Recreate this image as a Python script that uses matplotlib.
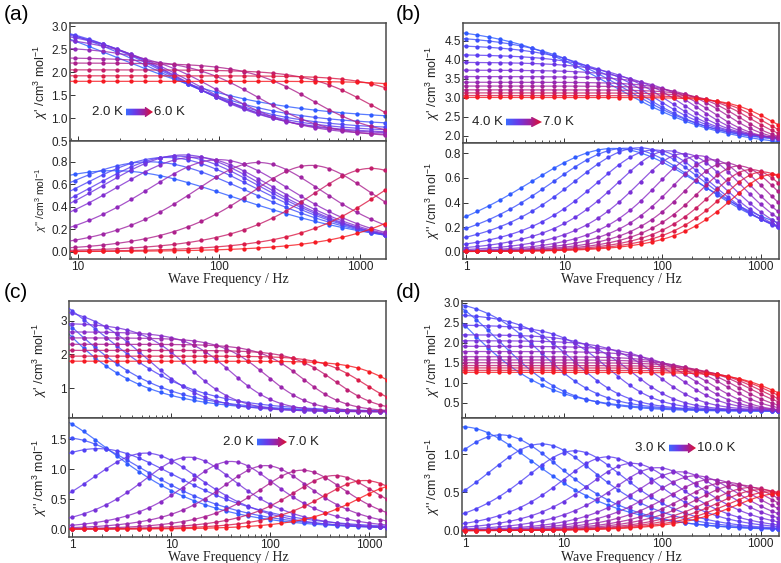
import numpy as np
import matplotlib
matplotlib.use("Agg")
import matplotlib.pyplot as plt
from matplotlib.colors import LinearSegmentedColormap
from matplotlib.patches import Polygon
from matplotlib.ticker import FixedLocator, LogLocator, NullFormatter

plt.rcParams['font.family'] = ['Liberation Sans', 'DejaVu Sans']
plt.rcParams['mathtext.fontset'] = 'custom'
plt.rcParams['mathtext.rm'] = 'Liberation Sans'
plt.rcParams['mathtext.it'] = 'Liberation Sans:italic'

# ---------------- data ----------------
# measured frequencies (Hz)
freq_a = [9.5, 12, 15, 19, 24, 30, 38, 48, 60, 75, 95, 120, 150, 190, 240,
          300, 380, 480, 600, 750, 950, 1200, 1500]
freq_bcd = [1.0, 1.3, 1.7, 2.2, 2.8, 3.6, 4.7, 6.0, 7.8, 10, 13, 17, 22, 28, 36,
            47, 60, 78, 100, 130, 170, 220, 280, 360, 470, 600, 780, 1000, 1300, 1500]

# generalized Debye parameters read per temperature:
# chi_T, chi_S (cm3/mol), peak frequency of chi'' (Hz), distribution alpha
# panel (a) 2.0 K -> 6.0 K
chiT_a = [3.76, 3.42, 3.24, 3.10, 3.01, 2.86, 2.58, 2.32, 2.20, 2.05, 1.92, 1.80]
chiS_a = [0.93, 0.81, 0.73, 0.68, 0.64, 0.62, 0.60, 0.575, 0.59, 0.52, 0.50, 0.50]
fpk_a = [18, 32, 42, 50, 56, 68, 100, 190, 450, 1200, 3200, 7500]
alpha_a = [0.40, 0.30, 0.25, 0.22, 0.20, 0.18, 0.12, 0.06, 0.03, 0.02, 0.0, 0.0]

# panel (b) 4.0 K -> 7.0 K
chiT_b = [4.95, 4.68, 4.42, 4.15, 3.94, 3.73, 3.56, 3.41, 3.31, 3.21, 3.13, 3.06, 3.01]
chiS_b = [1.65, 1.78, 1.80, 1.87, 1.89, 1.89, 1.87, 1.84, 1.82, 1.77, 1.75, 1.72, 1.71]
fpk_b = [32, 42, 58, 82, 115, 165, 235, 320, 440, 600, 800, 1050, 1350]
alpha_b = [0.40, 0.33, 0.27, 0.20, 0.14, 0.09, 0.05, 0.03, 0.02, 0.02, 0.02, 0.02, 0.02]

# panel (c) 2.0 K -> 7.0 K
chiT_c = [7.3, 5.75, 5.1, 3.52, 2.94, 2.67, 2.49, 2.30, 2.12, 1.95, 1.80]
chiS_c = [0.30, 0.30, 0.30, 0.30, 0.30, 0.30, 0.30, 0.30, 0.30, 0.30, 0.30]
fpk_c = [0.4, 0.82, 1.8, 5.5, 15, 40, 90, 210, 450, 900, 2000]
alpha_c = [0.35, 0.35, 0.35, 0.15, 0.06, 0.03, 0.02, 0.01, 0.01, 0.01, 0.01]

# panel (d) 3.0 K -> 10.0 K
chiT_d = [4.70, 3.72, 3.17, 2.74, 2.45, 2.20, 2.05, 1.91, 1.78, 1.65, 1.57, 1.50,
          1.43, 1.37, 1.31, 1.26]
chiS_d = [0.28, 0.28, 0.30, 0.30, 0.30, 0.30, 0.30, 0.30, 0.28, 0.25, 0.25, 0.25,
          0.25, 0.25, 0.25, 0.25]
fpk_d = [0.94, 2.3, 6, 13, 28, 50, 90, 150, 220, 320, 450, 600, 800, 1000, 1250, 1500]
alpha_d = [0.30, 0.20, 0.15, 0.10, 0.07, 0.05, 0.04, 0.03, 0.03, 0.03, 0.03, 0.03,
           0.03, 0.03, 0.03, 0.03]

legend_a = ("2.0 K", "6.0 K")
legend_b = ("4.0 K", "7.0 K")
legend_c = ("2.0 K", "7.0 K")
legend_d = ("3.0 K", "10.0 K")

# ---------------- helpers ----------------
W, H = 781, 563
fig = plt.figure(figsize=(W / 100, H / 100), dpi=100)

cmap = LinearSegmentedColormap.from_list(
    "bp", ["#2f5bff", "#5a3cf2", "#8a2bc8", "#b01f86", "#f51a22"])
acmap = LinearSegmentedColormap.from_list(
    "arr", ["#3a6cff", "#6a3ae8", "#a0209a", "#e0102a"])


def debye(f, cT, cS, fp, a):
    f = np.asarray(f, float)
    x = (f / fp) ** (1 - a)
    s = np.sin(np.pi * a / 2)
    c = np.cos(np.pi * a / 2)
    den = 1 + 2 * x * s + x * x
    return cS + (cT - cS) * (1 + x * s) / den, (cT - cS) * x * c / den


def px_axes(L, R, T, B):
    return fig.add_axes([L / W, 1 - B / H, (R - L) / W, (B - T) / H])


def style(ax, xlim, ylim, yticks, yfmt, xticks, show_x):
    ax.set_xscale('log')
    ax.set_xlim(*xlim)
    ax.set_ylim(*ylim)
    ax.yaxis.set_major_locator(FixedLocator(yticks))
    ax.set_yticklabels([yfmt.format(v) for v in yticks])
    ax.xaxis.set_major_locator(FixedLocator(xticks))
    ax.xaxis.set_minor_locator(LogLocator(base=10, subs=np.arange(2, 10)))
    ax.xaxis.set_minor_formatter(NullFormatter())
    if show_x:
        ax.set_xticklabels([str(int(v)) for v in xticks])
    else:
        ax.set_xticklabels([])
    ax.tick_params(which='both', direction='in', labelsize=8.5, colors='#333333',
                   labelcolor='#222222', pad=1.5)
    ax.tick_params(which='major', length=3.5, width=0.7)
    ax.tick_params(which='minor', length=2, width=0.6)
    for sp in ax.spines.values():
        sp.set_color('#4a4a4a')
        sp.set_linewidth(1.1)


def draw(ax1, ax2, freq, cT, cS, fp, al, xlim):
    n = len(cT)
    fl = np.geomspace(xlim[0], xlim[1], 300)
    for i in range(n):
        col = cmap(i / (n - 1))
        l1, l2 = debye(fl, cT[i], cS[i], fp[i], al[i])
        d1, d2 = debye(freq, cT[i], cS[i], fp[i], al[i])
        ax1.plot(fl, l1, '-', color=col, lw=0.9, alpha=0.8, zorder=2 + i)
        ax2.plot(fl, l2, '-', color=col, lw=0.9, alpha=0.8, zorder=2 + i)
        ax1.plot(freq, d1, 'o', color=col, ms=3.1, mec='none', zorder=2 + i)
        ax2.plot(freq, d2, 'o', color=col, ms=3.1, mec='none', zorder=2 + i)


def grad_arrow(x0, yc, w, h):
    ax = fig.add_axes([x0 / W, 1 - (yc + h / 2) / H, w / W, h / H])
    ax.axis('off')
    ax.set_xlim(0, 1)
    ax.set_ylim(0, 1)
    im = ax.imshow(np.linspace(0, 1, 256)[None, :], extent=[0, 1, 0, 1],
                   cmap=acmap, aspect='auto')
    poly = Polygon([(0, 0.2), (0.7, 0.2), (0.7, 0.0), (1, 0.5), (0.7, 1.0),
                    (0.7, 0.8), (0, 0.8)], closed=True, facecolor='none',
                   edgecolor='none', transform=ax.transData)
    ax.add_patch(poly)
    im.set_clip_path(poly)


def legend(labels, xl, ax0, aw, xr, yc):
    fig.text(xl / W, 1 - yc / H, labels[0], ha='left', va='center', fontsize=9.5,
             color='#222222')
    grad_arrow(ax0, yc, aw, 11)
    fig.text(xr / W, 1 - yc / H, labels[1], ha='left', va='center', fontsize=9.5,
             color='#222222')


ylab1 = r"$\chi$' /cm$^3$ mol$^{-1}$"
ylab2 = r"$\chi$'' /cm$^3$ mol$^{-1}$"


def ylabels(x, y1, y2, s2=9):
    fig.text(x / W, 1 - y1 / H, ylab1, rotation=90, ha='center', va='center',
             fontsize=9, color='#222222')
    fig.text(x / W, 1 - y2 / H, ylab2, rotation=90, ha='center', va='center',
             fontsize=s2, color='#222222')


def xlabel(xc, y):
    fig.text(xc / W, 1 - y / H, "Wave Frequency / Hz", ha='center', va='center',
             fontsize=10, family='Liberation Serif', color='#222222')


# ---------------- panel (a) ----------------
xl_a = (8.8, 1530)
a1 = px_axes(70, 386, 23, 141)
a2 = px_axes(70, 386, 141, 259)
draw(a1, a2, freq_a, chiT_a, chiS_a, fpk_a, alpha_a, xl_a)
style(a1, xl_a, (0.5, 3.07), [0.5, 1.0, 1.5, 2.0, 2.5, 3.0], "{:.1f}",
      [10, 100, 1000], False)
style(a2, xl_a, (-0.065, 0.985), [0.0, 0.2, 0.4, 0.6, 0.8], "{:.1f}",
      [10, 100, 1000], True)
legend(legend_a, 92, 126, 27, 154, 112)
ylabels(41, 82, 200, s2=7.5)
xlabel(228, 279)
fig.text(4 / W, 1 - 14 / H, "(a)", fontsize=15, va='center', ha='left')

# ---------------- panel (b) ----------------
xl_b = (0.93, 1540)
b1 = px_axes(463, 779, 23, 143)
b2 = px_axes(463, 779, 143, 259)
draw(b1, b2, freq_bcd, chiT_b, chiS_b, fpk_b, alpha_b, xl_b)
style(b1, xl_b, (1.81, 4.97), [2.0, 2.5, 3.0, 3.5, 4.0, 4.5], "{:.1f}",
      [1, 10, 100, 1000], False)
style(b2, xl_b, (-0.06, 0.885), [0.0, 0.2, 0.4, 0.6, 0.8], "{:.1f}",
      [1, 10, 100, 1000], True)
legend(legend_b, 472, 506, 36, 543, 122)
ylabels(433, 83, 201)
xlabel(621, 279)
fig.text(396 / W, 1 - 14 / H, "(b)", fontsize=15, va='center', ha='left')

# ---------------- panel (c) ----------------
xl_c = (0.925, 1480)
c1 = px_axes(69, 386, 301, 418)
c2 = px_axes(69, 386, 418, 537)
draw(c1, c2, freq_bcd, chiT_c, chiS_c, fpk_c, alpha_c, xl_c)
style(c1, xl_c, (0.12, 3.58), [1, 2, 3], "{:d}", [1, 10, 100, 1000], False)
style(c2, xl_c, (-0.13, 1.855), [0.0, 0.5, 1.0, 1.5], "{:.1f}",
      [1, 10, 100, 1000], True)
legend(legend_c, 223, 257, 30, 288, 442)
ylabels(40, 360, 478)
xlabel(228, 557)
fig.text(4 / W, 1 - 293 / H, "(c)", fontsize=15, va='center', ha='left')

# ---------------- panel (d) ----------------
xl_d = (0.93, 1540)
d1 = px_axes(462, 779, 301, 418)
d2 = px_axes(462, 779, 418, 536)
draw(d1, d2, freq_bcd, chiT_d, chiS_d, fpk_d, alpha_d, xl_d)
style(d1, xl_d, (0.12, 3.04), [0.5, 1.0, 1.5, 2.0, 2.5, 3.0], "{:.1f}",
      [1, 10, 100, 1000], False)
style(d2, xl_d, (-0.07, 1.47), [0.0, 0.5, 1.0], "{:.1f}",
      [1, 10, 100, 1000], True)
legend(legend_d, 635, 669, 27, 697, 448)
ylabels(433, 360, 477)
xlabel(621, 557)
fig.text(396 / W, 1 - 293 / H, "(d)", fontsize=15, va='center', ha='left')

fig.savefig("out.png", dpi=100)
